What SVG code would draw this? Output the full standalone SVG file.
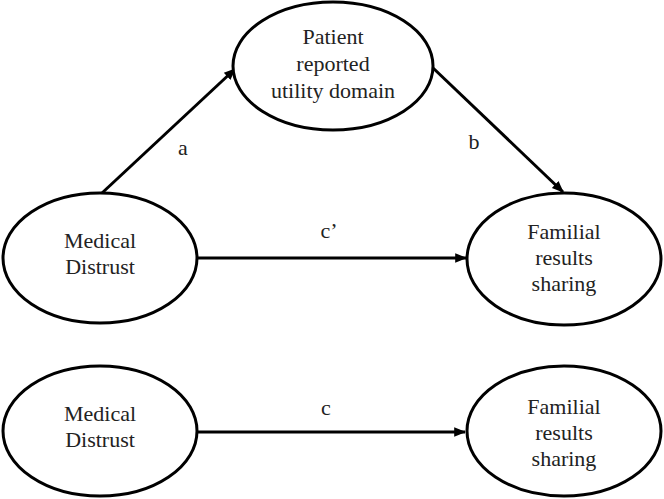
<svg xmlns="http://www.w3.org/2000/svg" width="664" height="499" viewBox="0 0 664 499">
<style>
.n{fill:#fff;stroke:#000;stroke-width:3}
.t{font-family:'Liberation Serif','Times New Roman',Times,serif;font-size:22px;fill:#222;text-anchor:middle}
.e{stroke:#000;stroke-width:3;fill:none;marker-end:url(#ah)}
</style>
<defs>
<marker id="ah" viewBox="0 0 10 10" refX="9" refY="5" markerWidth="4" markerHeight="4" markerUnits="strokeWidth" orient="auto">
<path d="M0,1 L10,5 L0,9 z" fill="#000"/>
</marker>
</defs>
<g id="connectors">
<line class="e" x1="102" y1="193" x2="235" y2="69"/>
<line class="e" x1="432" y1="67" x2="563" y2="192"/>
<line class="e" x1="197" y1="258" x2="466" y2="258"/>
<line class="e" x1="197" y1="432" x2="465" y2="432"/>
<text class="t" x="183" y="155">a</text>
<text class="t" x="474" y="149">b</text>
<text class="t" x="329" y="238">c’</text>
<text class="t" x="326" y="415">c</text>
</g>
<g id="mediator">
<ellipse class="n" cx="333" cy="66" rx="100" ry="64"/>
<text class="t" x="333" y="44">Patient</text>
<text class="t" x="333" y="71">reported</text>
<text class="t" x="333" y="98">utility domain</text>
</g>
<g id="distrust1">
<ellipse class="n" cx="100" cy="258" rx="97" ry="65"/>
<text class="t" x="100" y="248">Medical</text>
<text class="t" x="100" y="274">Distrust</text>
</g>
<g id="sharing1">
<ellipse class="n" cx="564" cy="259" rx="97" ry="66"/>
<text class="t" x="564" y="239">Familial</text>
<text class="t" x="564" y="265">results</text>
<text class="t" x="564" y="291">sharing</text>
</g>
<g id="distrust2">
<ellipse class="n" cx="100" cy="431" rx="97" ry="65"/>
<text class="t" x="100" y="421">Medical</text>
<text class="t" x="100" y="447">Distrust</text>
</g>
<g id="sharing2">
<ellipse class="n" cx="564" cy="431" rx="97" ry="65"/>
<text class="t" x="564" y="414">Familial</text>
<text class="t" x="564" y="440">results</text>
<text class="t" x="564" y="466">sharing</text>
</g>
</svg>
